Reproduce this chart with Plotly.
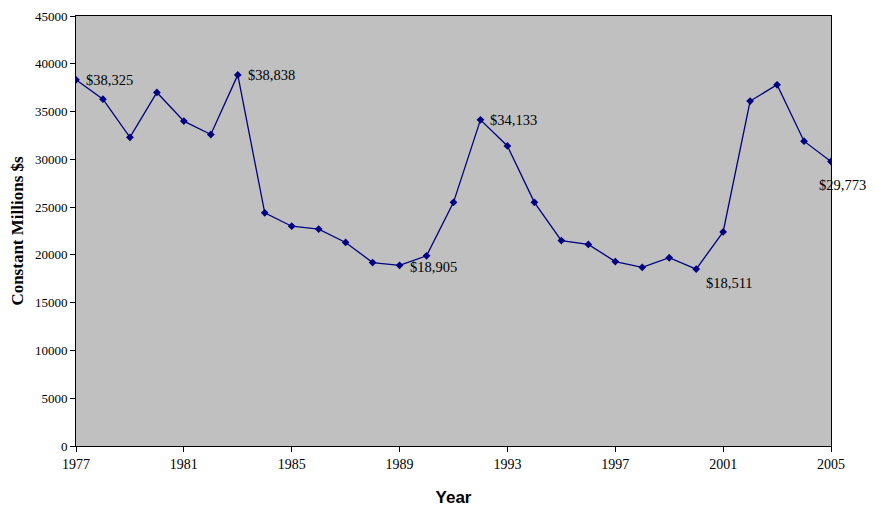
import plotly.graph_objects as go

years = list(range(1977, 2006))
values = [38325, 36300, 32300, 37000, 34000, 32600, 38838, 24400, 23000, 22700,
          21300, 19200, 18905, 19900, 25500, 34133, 31400, 25500, 21500, 21100,
          19300, 18700, 19700, 18511, 22400, 36100, 37800, 31900, 29773]

# labelled points: year -> text, x shift, y shift
labels = {1977: ("$38,325", 8, 0), 1983: ("$38,838", 8, 0), 1989: ("$18,905", 8, -2),
          1992: ("$34,133", 8, 0), 2000: ("$18,511", 8, -14), 2005: ("$29,773", -14, -23)}

fig = go.Figure()
fig.add_trace(go.Scatter(
    x=years, y=values, mode="lines+markers",
    line=dict(color="#000080", width=1.3),
    marker=dict(symbol="diamond", size=6, color="#000080"),
))

for yr, (txt, dx, dy) in labels.items():
    fig.add_annotation(x=yr, y=values[yr - 1977], text=txt, showarrow=False,
                       xanchor="left", xshift=dx, yshift=dy,
                       font=dict(family="Liberation Serif", size=14.5, color="black"))

fig.update_layout(
    width=875, height=514,
    margin=dict(l=68, r=52, t=8, b=76),
    paper_bgcolor="white", plot_bgcolor="#C0C0C0",
    showlegend=False,
    font=dict(family="Liberation Serif", size=14, color="black"),
)
fig.update_xaxes(range=[1977, 2005], tickvals=list(range(1977, 2006, 4)),
                 tickfont=dict(size=14),
                 showgrid=False, showline=True, linecolor="black", mirror=True,
                 ticks="outside", ticklen=5, tickcolor="black", zeroline=False,
                 automargin=False,
                 title=dict(text="<b>Year</b>", standoff=20,
                            font=dict(family="Liberation Sans", size=17)))
fig.update_yaxes(range=[0, 45000], dtick=5000, tickformat="d",
                 tickfont=dict(size=13),
                 showgrid=False, showline=True, linecolor="black", mirror=True,
                 ticks="outside", ticklen=5, tickcolor="black", zeroline=False,
                 automargin=False,
                 title=dict(text="<b>Constant Millions $s</b>", standoff=12,
                            font=dict(family="Liberation Serif", size=17)))

fig.write_html("out.html")
